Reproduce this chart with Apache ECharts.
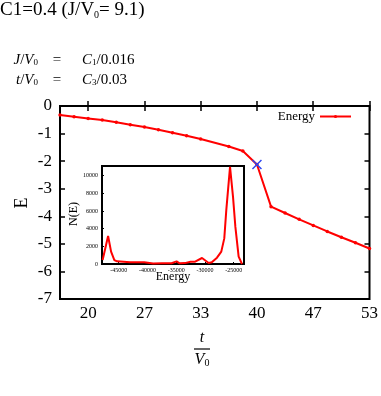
<!DOCTYPE html>
<html>
<head>
<meta charset="utf-8">
<script src="https://cdn.jsdelivr.net/npm/echarts@6/dist/echarts.min.js"></script>
<style>
  html, body { margin: 0; padding: 0; background: #fff; }
  #chart { width: 381px; height: 396px; }
</style>
</head>
<body>
<div id="chart"></div>
<script>
// main curve: energy vs t/V0
const tValues = [16.67, 18.33, 20, 21.67, 23.33, 25, 26.67, 28.33, 30, 31.67, 33.33,
  36.67, 38.33, 40, 41.67, 43.33, 45, 46.67, 48.33, 50, 51.67, 53.33];
const energy = [-0.33, -0.39, -0.45, -0.51, -0.59, -0.68, -0.76, -0.86, -0.97, -1.08, -1.20,
  -1.47, -1.63, -2.12, -3.65, -3.88, -4.11, -4.33, -4.55, -4.76, -4.96, -5.17];
const markT = [40];
const markE = [-2.12];
const xTicks = [20, 26.667, 33.333, 40, 46.667, 53.333];

// inset: density of states
const dosEnergy = [-47790, -46840, -46320, -45750, -45280, -43000, -40560, -39000, -37500,
  -35800, -34930, -34400, -33500, -32500, -31700, -30500, -29350, -28800, -27900, -27150,
  -26630, -26280, -25630, -25110, -24700, -24130, -23550];
const dosCount = [450, 3170, 1400, 450, 300, 200, 200, 60, 80,
  90, 300, 80, 100, 260, 260, 680, 110, 190, 720, 1400,
  2900, 6100, 11000, 7600, 4200, 830, 0];
const dosXTicks = [-45000, -40000, -35000, -30000, -25000];
const dosYTicks = [0, 2000, 4000, 6000, 8000, 10000];

const serif = '"Liberation Serif", "DejaVu Serif", serif';
const red = '#ff0000';

const chart = echarts.init(document.getElementById('chart'), null, { renderer: 'canvas' });

const mainTick = { show: true, inside: true, length: 5, lineStyle: { color: '#000', width: 1.5 } };
const sub = { fontFamily: serif, fontSize: 9, padding: [6, 0, 0, 0] };
const ital = { fontStyle: 'italic', fontFamily: serif, fontSize: 15 };

chart.setOption({
  animation: false,
  grid: [
    { left: 60, top: 106, width: 311, height: 193, show: true, borderColor: '#000', borderWidth: 2, backgroundColor: 'transparent' },
    { left: 102, top: 166, width: 142, height: 98, show: true, borderColor: '#000', borderWidth: 2, backgroundColor: '#fff', z: 5 }
  ],
  xAxis: [
    {
      gridIndex: 0, type: 'value', min: 16.667, max: 53.333,
      axisLine: { show: false }, splitLine: { show: false },
      axisTick: Object.assign({ customValues: xTicks }, mainTick),
      axisLabel: { customValues: xTicks, formatter: v => String(Math.round(v)), fontFamily: serif, fontSize: 17, color: '#000', margin: 6 }
    },
    {
      gridIndex: 0, type: 'value', position: 'top', min: 16.667, max: 53.333,
      axisLine: { show: false }, splitLine: { show: false },
      axisTick: Object.assign({ customValues: xTicks }, mainTick),
      axisLabel: { show: false }
    },
    {
      gridIndex: 1, type: 'value', min: -47900, max: -23200, z: 6,
      axisLine: { show: false }, splitLine: { show: false },
      axisTick: { show: true, inside: true, length: 2, customValues: dosXTicks, lineStyle: { color: '#000' } },
      axisLabel: { customValues: dosXTicks, formatter: v => String(v), fontFamily: serif, fontSize: 6, color: '#000', margin: 3 }
    }
  ],
  yAxis: [
    {
      gridIndex: 0, type: 'value', min: -7, max: 0, interval: 1,
      axisLine: { show: false }, splitLine: { show: false },
      axisTick: mainTick,
      axisLabel: { formatter: v => String(v), fontFamily: serif, fontSize: 17, color: '#000', margin: 8 }
    },
    {
      gridIndex: 0, type: 'value', position: 'right', min: -7, max: 0, interval: 1,
      axisLine: { show: false }, splitLine: { show: false },
      axisTick: mainTick,
      axisLabel: { show: false }
    },
    {
      gridIndex: 1, type: 'value', min: 0, max: 11100, z: 6,
      axisLine: { show: false }, splitLine: { show: false },
      axisTick: { show: true, inside: true, length: 2, customValues: dosYTicks, lineStyle: { color: '#000' } },
      axisLabel: { customValues: dosYTicks, formatter: v => String(v), fontFamily: serif, fontSize: 6, color: '#000', margin: 4 }
    }
  ],
  legend: {
    data: ['Energy'], right: 24, top: 105, align: 'right', itemWidth: 31, itemHeight: 4, itemGap: 6,
    textStyle: { fontFamily: serif, fontSize: 13, color: '#000' }
  },
  series: [
    {
      name: 'Energy', type: 'line', xAxisIndex: 0, yAxisIndex: 0,
      data: tValues.map((t, i) => [t, energy[i]]),
      lineStyle: { color: red, width: 2 }, itemStyle: { color: red },
      symbol: 'circle', symbolSize: 3.5, showSymbol: true
    },
    {
      name: 'mark', type: 'line', xAxisIndex: 0, yAxisIndex: 0, z: 10,
      data: markT.map((t, i) => [t, markE[i]]),
      lineStyle: { width: 0 },
      symbol: 'path://M1,0 L5,4 L9,0 L10,1 L6,5 L10,9 L9,10 L5,6 L1,10 L0,9 L4,5 L0,1 Z',
      symbolSize: 10, itemStyle: { color: '#2a45f0', opacity: 1 }
    },
    {
      name: 'N(E)', type: 'line', xAxisIndex: 2, yAxisIndex: 2, z: 7,
      data: dosEnergy.map((e, i) => [e, dosCount[i]]),
      showSymbol: false, lineStyle: { color: red, width: 2 }
    }
  ],
  graphic: [
    { type: 'text', left: 0, top: 1, style: {
      text: 'C1=0.4 (J/V{s|0}= 9.1)', fontFamily: serif, fontSize: 19, fill: '#000',
      rich: { s: { fontFamily: serif, fontSize: 10, verticalAlign: 'bottom', padding: [8, 0, 0, 0] } }
    } },
    { type: 'text', x: 38, y: 60, style: {
      text: '{i|J}/{i|V}{s|0}', align: 'right', verticalAlign: 'middle', fontFamily: serif, fontSize: 15, fill: '#000',
      rich: { i: ital, s: sub }
    } },
    { type: 'text', x: 57, y: 60, style: { text: '=', align: 'center', verticalAlign: 'middle', fontFamily: serif, fontSize: 15, fill: '#000' } },
    { type: 'text', x: 82, y: 60, style: {
      text: '{i|C}{s|1}/0.016', verticalAlign: 'middle', fontFamily: serif, fontSize: 15, fill: '#000',
      rich: { i: ital, s: sub }
    } },
    { type: 'text', x: 38, y: 80, style: {
      text: '{i|t}/{i|V}{s|0}', align: 'right', verticalAlign: 'middle', fontFamily: serif, fontSize: 15, fill: '#000',
      rich: { i: ital, s: sub }
    } },
    { type: 'text', x: 57, y: 80, style: { text: '=', align: 'center', verticalAlign: 'middle', fontFamily: serif, fontSize: 15, fill: '#000' } },
    { type: 'text', x: 82, y: 80, style: {
      text: '{i|C}{s|3}/0.03', verticalAlign: 'middle', fontFamily: serif, fontSize: 15, fill: '#000',
      rich: { i: ital, s: sub }
    } },
    // y title of main chart
    { type: 'text', x: 22, y: 203, rotation: Math.PI / 2, style: {
      text: 'E', align: 'center', verticalAlign: 'middle', fontFamily: serif, fontSize: 18, fill: '#000'
    } },
    // x title as fraction t / V0
    { type: 'text', x: 202, y: 338, style: {
      text: 't', align: 'center', verticalAlign: 'middle', fontFamily: serif, fontStyle: 'italic', fontSize: 16, fill: '#000'
    } },
    { type: 'line', shape: { x1: 194, y1: 349, x2: 210, y2: 349 }, style: { stroke: '#000', lineWidth: 1.2 } },
    { type: 'text', x: 202, y: 360, style: {
      text: '{i|V}{s|0}', align: 'center', verticalAlign: 'middle', fontFamily: serif, fontSize: 16, fill: '#000',
      rich: { i: { fontStyle: 'italic', fontFamily: serif, fontSize: 16 }, s: { fontFamily: serif, fontSize: 10, padding: [7, 0, 0, 0] } }
    } },
    // inset titles
    { type: 'text', x: 74, y: 214, rotation: Math.PI / 2, z: 10, style: {
      text: 'N(E)', align: 'center', verticalAlign: 'middle', fontFamily: serif, fontSize: 12, fill: '#000'
    } },
    { type: 'text', x: 173, y: 277, z: 10, style: {
      text: 'Energy', align: 'center', verticalAlign: 'middle', fontFamily: serif, fontSize: 12, fill: '#000'
    } }
  ]
});
</script>
</body>
</html>
